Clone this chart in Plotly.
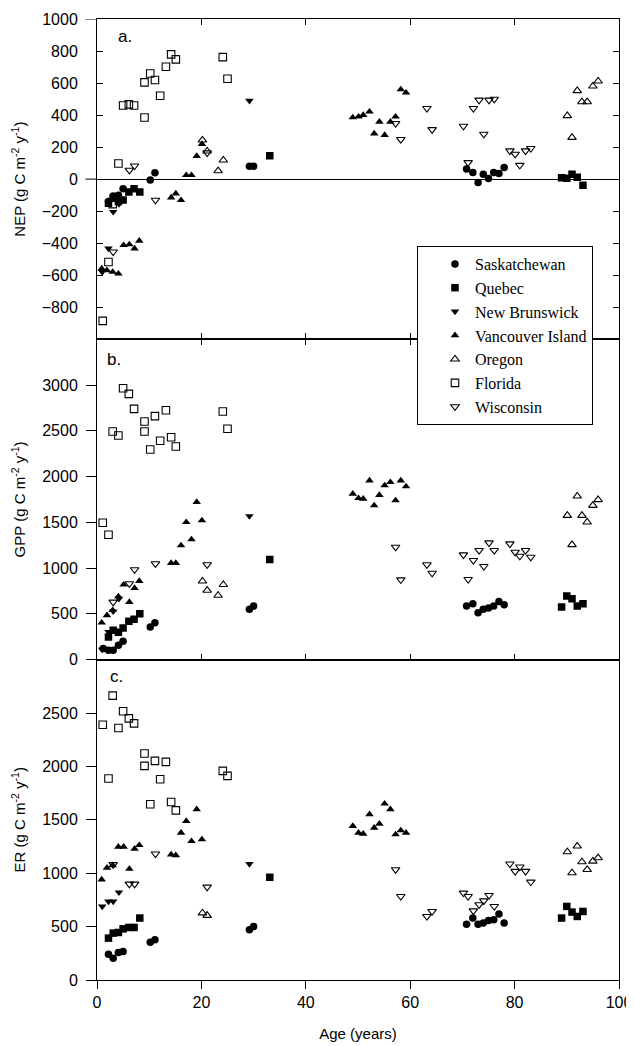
import plotly.graph_objects as go

# ---------------- data ----------------
SITES = ["Saskatchewan", "Quebec", "New Brunswick", "Vancouver Island",
         "Oregon", "Florida", "Wisconsin"]

SASK_AGE = [1.2, 2.2, 3.1, 4.1, 5.0, 10.2, 11.1, 29.2, 30.0,
            70.8, 72.0, 73.0, 74.0, 75.0, 76.0, 77.0, 78.0]
SASK_NEP = [None, -140, -105, -100, -60, -6, 40, 81, 81,
            63, 42, -21, 31, 4, 42, 35, 73]
SASK_GPP = [120, 102, 102, 156, 200, 356, 404, 549, 585,
            585, 611, 513, 549, 564, 585, 636, 600]
SASK_ER = [None, 241, 204, 257, 266, 354, 376, 470, 501,
           523, 580, 523, 533, 557, 563, 617, 533]

QUE_AGE = [2.2, 3.1, 4.1, 5.0, 6.1, 7.1, 8.2, 33.1, 89.0, 90.0, 91.0, 92.0, 93.1]
QUE_NEP = [-150, -120, -140, -130, -80, -60, -80, 146, 8, 5, 30, 12, -38]
QUE_GPP = [247, 320, 300, 345, 418, 440, 502, 1095, 574, 694, 666, 585, 611]
QUE_ER = [392, 439, 445, 479, 492, 492, 580, 962, 580, 689, 636, 595, 642]

NB_AGE = [1.0, 2.2, 3.1, 4.2, 29.2]
NB_NEP = [-579, -433, -204, -155, 490]
NB_GPP = [110, 303, 527, 666, 1568]
NB_ER = [689, 736, 736, 821, 1087]

VI_AGE = [0.9, 1.9, 3.0, 4.1, 5.1, 6.2, 7.2, 8.1, 14.2, 15.1, 16.1, 17.1, 18.1,
          19.1, 20.1, 49.0, 50.1, 51.0, 52.2, 53.1, 54.1, 55.1, 56.2, 57.2,
          58.2, 59.2]
VI_NEP = [-558, -569, -579, -590, -412, -408, -433, -385, -115, -90, -131, 25,
          25, 144, 219, 385, 390, 400, 421, 285, 358, 275, 358, 390, 560, 540]
VI_GPP = [404, 484, 540, 690, 819, 629, 782, 858, 1055, 1055, 1248, 1502, 1313,
          1721, 1521, 1812, 1764, 1757, 1957, 1684, 1798, 1903, 1939, 1739,
          1957, 1892]
VI_ER = [940, 1050, 1074, 1247, 1247, 1040, 1228, 1262, 1175, 1168, 1378, 1488,
         1300, 1598, 1316, 1441, 1378, 1369, 1551, 1425, 1463, 1651, 1598,
         1363, 1400, 1378]

OR_AGE = [20.2, 21.1, 23.2, 24.2, 90.1, 91.0, 92.0, 92.9, 93.9, 95.0, 96.0]
OR_NEP = [244, 175, 52, 119, 396, 260, 552, 483, 483, 581, 612]
OR_GPP = [858, 757, 702, 819, 1575, 1255, 1786, 1575, 1502, 1684, 1747]
OR_ER = [627, 604, None, None, 1200, 1003, 1253, 1106, 1034, 1112, 1144]

FL_AGE = [1.1, 2.2, 3.0, 4.1, 5.0, 6.1, 7.1, 9.1, 9.1, 10.2, 11.1, 12.1, 13.2,
          14.2, 15.1, 24.1, 25.0]
FL_NEP = [-885, -517, -156, 98, 460, 467, 460, 604, 385, 660, 619, 521, 702,
          779, 748, 762, 627]
FL_GPP = [1496, 1365, 2492, 2449, 2965, 2904, 2740, 2602, 2492, 2296, 2660,
          2391, 2725, 2430, 2329, 2711, 2522]
FL_ER = [2390, 1886, 2663, 2359, 2516, 2450, 2403, 2005, 2121, 1645, 2052,
         1880, 2042, 1667, 1588, 1958, 1911]

WI_AGE = [3.1, 6.2, 7.2, 11.2, 21.1, 57.2, 58.2, 63.2, 64.2, 70.2, 71.1, 72.1,
          73.2, 74.1, 75.1, 76.1, 79.1, 80.1, 81.0, 82.1, 83.1]
WI_NEP = [-454, 56, 83, -131, 165, 348, 248, 442, 310, 331, 104, 442, 494, 281,
          494, 500, 177, 156, 87, 177, 192]
WI_GPP = [629, 830, 983, 1048, 1037, 1229, 873, 1037, 945, 1146, 877, 1084,
          1193, 1019, 1277, 1193, 1266, 1175, 1131, 1193, 1120]
WI_ER = [1081, 899, 899, 1181, 871, 1034, 783, 595, 642, 815, 783, 648, 705,
         742, 792, 689, 1087, 1018, 1059, 1018, 918]

NEP_TICKS = [-800, -600, -400, -200, 0, 200, 400, 600, 800, 1000]
GPP_TICKS = [0, 500, 1000, 1500, 2000, 2500, 3000]
ER_TICKS = [0, 500, 1000, 1500, 2000, 2500]
AGE_TICKS = [0, 20, 40, 60, 80, 100]

# ---------------- figure ----------------
SITE_DATA = {
    "Saskatchewan": (SASK_AGE, SASK_NEP, SASK_GPP, SASK_ER),
    "Quebec": (QUE_AGE, QUE_NEP, QUE_GPP, QUE_ER),
    "New Brunswick": (NB_AGE, NB_NEP, NB_GPP, NB_ER),
    "Vancouver Island": (VI_AGE, VI_NEP, VI_GPP, VI_ER),
    "Oregon": (OR_AGE, OR_NEP, OR_GPP, OR_ER),
    "Florida": (FL_AGE, FL_NEP, FL_GPP, FL_ER),
    "Wisconsin": (WI_AGE, WI_NEP, WI_GPP, WI_ER),
}
SYMBOLS = {
    "Saskatchewan": "circle",
    "Quebec": "square",
    "New Brunswick": "triangle-down",
    "Vancouver Island": "triangle-up",
    "Oregon": "triangle-up-open",
    "Florida": "square-open",
    "Wisconsin": "triangle-down-open",
}

fig = go.Figure()
panels = [("x", "y", 1), ("x2", "y2", 2), ("x3", "y3", 3)]
for site in SITES:
    age = SITE_DATA[site][0]
    for xa, ya, k in panels:
        vals = SITE_DATA[site][k]
        sym = SYMBOLS[site]
        is_open = sym.endswith("open")
        fig.add_trace(go.Scatter(
            x=age, y=vals, mode="markers", name=site,
            xaxis=xa, yaxis=ya, legendgroup=site, showlegend=(k == 1),
            marker=dict(symbol=sym, size=7.5, color="black",
                        line=dict(width=1.1 if is_open else 0, color="black")),
        ))

SANS = "Liberation Sans"
SERIF = "Liberation Serif"
tickfont = dict(family=SANS, size=16, color="black")
titlefont = dict(family=SANS, size=15, color="black")

dA = [0.6667, 1.0]
dB = [0.3334, 0.6667]
dC = [0.0, 0.3334]

common_x = dict(range=[0, 100], tickvals=AGE_TICKS, showline=True,
                linecolor="black", linewidth=1, showgrid=False, zeroline=False,
                tickcolor="black", tickwidth=1, automargin=False)

# the page body adds an 8 px offset, so the figure is drawn 8 px smaller
fig.update_layout(
    width=626, height=1038,
    margin=dict(l=89, r=15, t=11, b=66, autoexpand=False),
    paper_bgcolor="white", plot_bgcolor="white",
    font=dict(family=SANS, color="black"),
    showlegend=True,
    legend=dict(x=0.613, y=0.7638, xanchor="left", yanchor="top",
                bgcolor="white", bordercolor="black", borderwidth=1,
                font=dict(family=SERIF, size=16, color="black"),
                indentation=17, tracegroupgap=0),
    xaxis=dict(**common_x, domain=[0, 1], anchor="y", ticks="inside",
               ticklen=6, mirror="ticks", showticklabels=False),
    xaxis2=dict(**common_x, domain=[0, 1], anchor="y2", ticks="inside",
                ticklen=6, mirror="ticks", showticklabels=False, matches="x"),
    xaxis3=dict(**common_x, domain=[0, 1], anchor="y3", ticks="outside",
                ticklen=8, mirror=True, showticklabels=True, matches="x",
                tickfont=tickfont, ticklabelstandoff=0,
                title=dict(text="Age (years)", font=titlefont, standoff=18)),
    xaxis4=dict(range=[0, 100], tickvals=AGE_TICKS, overlaying="x3",
                anchor="y3", side="bottom", ticks="inside", ticklen=6,
                mirror="ticks", showline=True, linecolor="black",
                tickcolor="black", showticklabels=False, showgrid=False,
                zeroline=False, automargin=False),
    yaxis=dict(domain=dA, anchor="x", range=[-1000, 1000], tickvals=NEP_TICKS,
               ticks="inside", ticklen=6, mirror="ticks", showline=True,
               linecolor="black", tickcolor="black", showgrid=False,
               zeroline=True, zerolinecolor="black", zerolinewidth=1,
               tickfont=tickfont, ticklabelstandoff=15, automargin=False,
               title=dict(text="NEP (g C m<sup>-2</sup> y<sup>-1</sup>)",
                          font=titlefont, standoff=12)),
    yaxis2=dict(domain=dB, anchor="x2", range=[0, 3500], tickvals=GPP_TICKS,
                ticks="outside", ticklen=10, mirror=True, showline=True,
                linecolor="black", tickcolor="black", showgrid=False,
                zeroline=False, tickfont=tickfont, ticklabelstandoff=5,
                automargin=False,
                title=dict(text="GPP (g C m<sup>-2</sup> y<sup>-1</sup>)",
                           font=titlefont, standoff=12)),
    yaxis4=dict(overlaying="y2", anchor="x2", side="right", range=[0, 3500],
                tickvals=GPP_TICKS, ticks="inside", ticklen=6,
                showline=False, tickcolor="black", showticklabels=False,
                showgrid=False, zeroline=False, automargin=False),
    yaxis3=dict(domain=dC, anchor="x3", range=[0, 3000], tickvals=ER_TICKS,
                ticks="outside", ticklen=10, mirror=True, showline=True,
                linecolor="black", tickcolor="black", showgrid=False,
                zeroline=False, tickfont=tickfont, ticklabelstandoff=5,
                automargin=False,
                title=dict(text="ER (g C m<sup>-2</sup> y<sup>-1</sup>)",
                           font=titlefont, standoff=12)),
    yaxis5=dict(overlaying="y3", anchor="x3", side="right", range=[0, 3000],
                tickvals=ER_TICKS, ticks="inside", ticklen=6,
                showline=False, tickcolor="black", showticklabels=False,
                showgrid=False, zeroline=False, automargin=False),
)

# outside tick marks at 0 and 1000 on the NEP axis
for v in (0, 1000):
    fig.add_shape(type="line", xref="x domain", yref="y",
                  x0=-0.022, x1=0, y0=v, y1=v,
                  line=dict(color="black", width=1))

# panel letters
for txt, xp, yp in (("a.", 0.036, 0.9813), ("b.", 0.016, 0.6462),
                    ("c.", 0.022, 0.3153)):
    fig.add_annotation(text=txt, xref="paper", yref="paper", x=xp, y=yp,
                       xanchor="left", yanchor="middle", showarrow=False,
                       font=dict(family=SANS, size=17, color="black"))

fig.write_html("out.html")
